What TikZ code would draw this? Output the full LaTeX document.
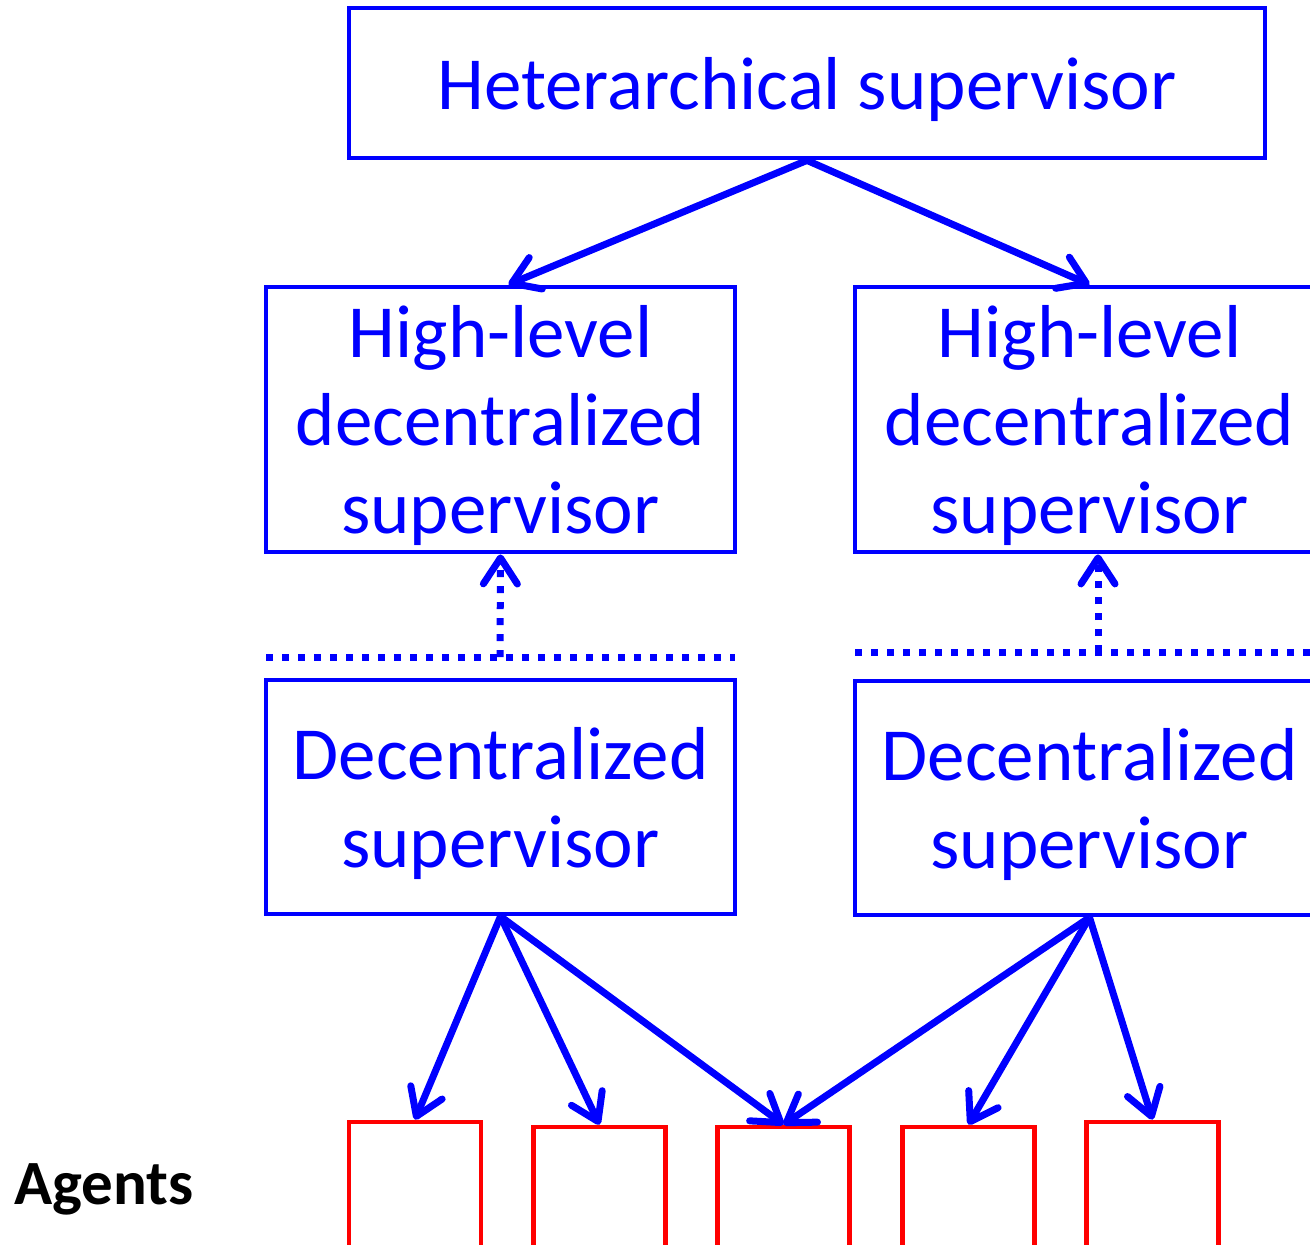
\documentclass[tikz,border=0pt]{standalone}
\usepackage{fontspec}
\setmainfont{Carlito}
\usetikzlibrary{arrows.meta}
\begin{document}
\begin{tikzpicture}[x=0.5pt,y=-0.5pt,
    box/.style={draw=blue,line width=2.4pt,inner sep=0pt},
    boxtext/.style={text=blue,align=center,inner sep=0pt,yshift=-3pt,
        font=\fontsize{37.5}{44}\selectfont},
    agentbox/.style={draw=red,line width=2.4pt,minimum width=66pt,minimum height=66pt,inner sep=0pt},
    barb/.style={-{Straight Barb[length=13pt,width=17pt,round]}},
    link/.style={blue,line width=3.5pt,barb},
    dotline/.style={blue,line width=3.5pt,dash pattern=on 3.5pt off 4.5pt}]
    \useasboundingbox (0,0) rectangle (1310,1244);
    % supervisors
    \node[box,minimum width=458pt,minimum height=75pt,
        label={[boxtext]center:Heterarchical supervisor}] (het) at (807,83) {};
    \node[box,minimum width=234.5pt,minimum height=132.5pt,
        label={[boxtext]center:High-level\\decentralized\\supervisor}] (hlA) at (500.5,419.5) {};
    \node[box,minimum width=234.5pt,minimum height=132.5pt,
        label={[boxtext]center:High-level\\decentralized\\supervisor}] (hlB) at (1089.5,419.5) {};
    \node[box,minimum width=234.5pt,minimum height=117pt,
        label={[boxtext]center:Decentralized\\supervisor}] (decA) at (500.5,797) {};
    \node[box,minimum width=234.5pt,minimum height=117pt,
        label={[boxtext]center:Decentralized\\supervisor}] (decB) at (1089.5,798) {};
    % agents
    \node[agentbox] (ag1) at (415,1188) {};
    \node[agentbox] (ag2) at (599.5,1193) {};
    \node[agentbox] (ag3) at (783.5,1193) {};
    \node[agentbox] (ag4) at (968.5,1193) {};
    \node[agentbox] (ag5) at (1152.5,1188) {};
    \node[font=\fontsize{31.5}{36}\selectfont\bfseries] (agents) at (104,1189) {Agents};
    % dotted layers
    \coordinate (dotA1) at (266,657);
    \coordinate (dotA2) at (735,657);
    \coordinate (dotAm) at (500,657);
    \coordinate (dotB1) at (855,652);
    \coordinate (dotB2) at (1330,652);
    \coordinate (dotBm) at (1098,652);
    \draw[dotline] (dotA1) -- (dotA2);
    \draw[dotline] (dotB1) -- (dotB2);
    \draw[dotline,barb] (dotAm) -- (hlA.south);
    \draw[dotline,barb] (dotBm) -- (dotBm|-hlB.south);
    % arrows
    \draw[link] (het.south) -- ([xshift=4pt]hlA.north);
    \draw[link] (het.south) -- (hlB.north);
    \draw[link] (decA.south) -- (ag1.north);
    \draw[link] (decA.south) -- (ag2.north);
    \draw[link] (decA.south) -- (ag3.north);
    \draw[link] (decB.south) -- (ag3.north);
    \draw[link] (decB.south) -- (ag4.north);
    \draw[link] (decB.south) -- (ag5.north);
\end{tikzpicture}
\end{document}
